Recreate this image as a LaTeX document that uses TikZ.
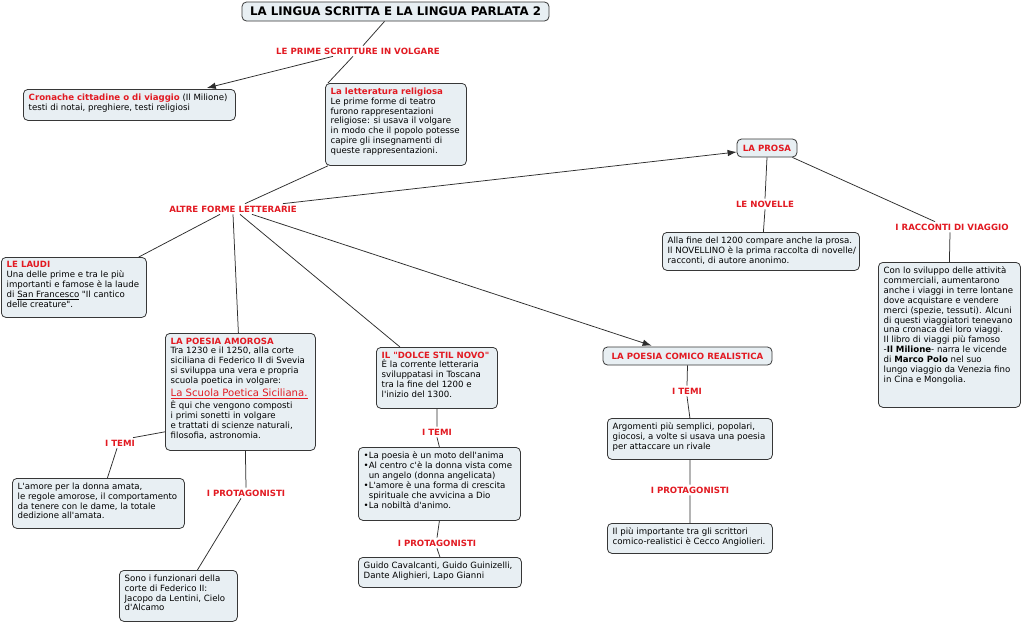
\documentclass[tikz,border=0pt]{standalone}
\usepackage{fontspec}
\setmainfont{DejaVu Sans}[Ligatures=TeXOff]
\usetikzlibrary{arrows.meta}
\definecolor{lblred}{RGB}{226,26,34}
\definecolor{boxfill}{RGB}{232,239,243}
\definecolor{bord}{RGB}{55,55,55}
\definecolor{linec}{RGB}{45,45,45}
\newcommand\fs{\fontsize{8.6}{9.9}\selectfont}
\newcommand\fsb{\fontsize{8.6}{9.9}\selectfont\bfseries}
\tikzset{
  bx/.style={draw=bord, fill=boxfill, rounded corners=4.5pt, line width=0.8pt, inner sep=0pt, anchor=north west},
  txt/.style={anchor=north west, align=left, inner sep=0pt, font=\fs, text=black},
  lbl/.style={text=lblred, font=\fsb, inner sep=2pt, text height=6.3pt, text depth=0pt},
  ln/.style={draw=linec, line width=0.75pt},
  arr/.style={ln, -{Latex[length=9pt,width=6.5pt]}},
}
\newcommand\boxnode[6]{%
  \node[bx, minimum width=#4pt, minimum height=#5pt] (#1) at (#2,#3) {};
  \node[txt] (#1t) at ([xshift=5.5pt,yshift=-4.5pt]#1.north west) {#6};}
\newcommand\rb[1]{{\color{lblred}\bfseries #1}}
\begin{document}
\begin{tikzpicture}[x=1pt,y=-1pt]
\fill[white] (0,0) rectangle (1024,622);
\useasboundingbox (0,0) rectangle (1024,622);

% title
\node[bx, anchor=center, minimum width=307pt, minimum height=19pt, font=\fontsize{11.8}{12}\selectfont\bfseries] (title) at (395.5,11.5) {LA LINGUA SCRITTA E LA LINGUA PARLATA 2};

% boxes
\boxnode{cron}{23}{89}{212}{31}{\rb{Cronache cittadine o di viaggio} (Il Milione)\\testi di notai, preghiere, testi religiosi}
\boxnode{relig}{325}{83}{141}{82}{\rb{La letteratura religiosa}\\Le prime forme di teatro\\furono rappresentazioni\\religiose: si usava il volgare\\in modo che il popolo potesse\\capire gli insegnamenti di\\queste rappresentazioni.}
\boxnode{laudi}{1}{257}{145}{60}{\rb{LE LAUDI}\\Una delle prime e tra le più\\importanti e famose è la laude\\di \underline{San Francesco} "Il cantico\\delle creature".}
\boxnode{amor}{165}{333}{150}{117}{\rb{LA POESIA AMOROSA}\\Tra 1230 e il 1250, alla corte\\siciliana di Federico II di Svevia\\si sviluppa una vera e propria\\scuola poetica in volgare:\\[2.6pt]{\fontsize{10.1}{12}\selectfont\color{lblred}\underline{La Scuola Poetica Siciliana.}}\\[1.6pt]È qui che vengono composti\\i primi sonetti in volgare\\e trattati di scienze naturali,\\filosofia, astronomia.}
\boxnode{amt}{12}{478}{172}{50}{L'amore per la donna amata,\\le regole amorose, il comportamento\\da tenere con le dame, la totale\\dedizione all'amata.}
\boxnode{apb}{119}{570}{118}{51}{Sono i funzionari della\\corte di Federico II:\\Jacopo da Lentini, Cielo\\d'Alcamo}
\boxnode{dolce}{376}{347}{121}{61}{\rb{IL "DOLCE STIL NOVO"}\\È la corrente letteraria\\sviluppatasi in Toscana\\tra la fine del 1200 e\\l'inizio del 1300.}
\boxnode{dtb}{358}{447}{162}{73}{•La poesia è un moto dell'anima\\•Al centro c'è la donna vista come\\\phantom{•}un angelo (donna angelicata)\\•L'amore è una forma di crescita\\\phantom{•}spirituale che avvicina a Dio\\•La nobiltà d'animo.}
\boxnode{dpb}{358}{557}{163}{30}{Guido Cavalcanti, Guido Guinizelli,\\Dante Alighieri, Lapo Gianni}
\boxnode{ctb}{607}{418}{165}{41}{Argomenti più semplici, popolari,\\giocosi, a volte si usava una poesia\\per attaccare un rivale}
\boxnode{cpb}{607}{523}{165}{30}{Il più importante tra gli scrittori\\comico-realistici è Cecco Angiolieri.}
\boxnode{novb}{662}{232}{197}{38}{Alla fine del 1200 compare anche la prosa.\\Il NOVELLINO è la prima raccolta di novelle/\\racconti, di autore anonimo.}
\boxnode{raccb}{878}{262}{142}{145}{Con lo sviluppo delle attività\\commerciali, aumentarono\\anche i viaggi in terre lontane\\dove acquistare e vendere\\merci (spezie, tessuti). Alcuni\\di questi viaggiatori tenevano\\una cronaca dei loro viaggi.\\Il libro di viaggi più famoso\\-\textbf{Il Milione}- narra le vicende\\di \textbf{Marco Polo} nel suo\\lungo viaggio da Venezia fino\\in Cina e Mongolia.}

\node[bx, anchor=center, minimum width=60pt, minimum height=18pt, font=\fsb, text=lblred] (prosa) at (767,148) {LA PROSA};
\node[bx, anchor=center, minimum width=169pt, minimum height=18pt, font=\fsb, text=lblred] (comico) at (687.5,356) {LA POESIA COMICO REALISTICA};

% labels
\node[lbl] (lbl1) at (358,51) {LE PRIME SCRITTURE IN VOLGARE};
\node[lbl] (altre) at (233,209) {ALTRE FORME LETTERARIE};
\node[lbl] (novl) at (765,204) {LE NOVELLE};
\node[lbl] (raccl) at (952,227) {I RACCONTI DI VIAGGIO};
\node[lbl] (amtl) at (120,443) {I TEMI};
\node[lbl] (apl) at (246,493) {I PROTAGONISTI};
\node[lbl] (dtl) at (437,432) {I TEMI};
\node[lbl] (dpl) at (437,543) {I PROTAGONISTI};
\node[lbl] (ctl) at (687,391) {I TEMI};
\node[lbl] (cpl) at (690,490) {I PROTAGONISTI};

% connectors
\draw[ln] ([xshift=-11pt]title.south) -- ([xshift=5pt]lbl1.north);
\draw[ln] ([xshift=-5pt]lbl1.south) -- ([xshift=3pt]relig.north west);
\draw[arr] ([xshift=-25pt]lbl1.south) -- ([xshift=-29pt,yshift=1pt]cron.north east);
\draw[ln] ([xshift=3pt]relig.south west) -- ([xshift=12pt]altre.north);
\draw[arr] ([xshift=-16pt]altre.north east) -- ([yshift=-4pt]prosa.west);
\draw[ln] ([xshift=-13pt]altre.south) -- ([xshift=-8pt]laudi.north east);
\draw[ln] (altre.south) -- ([xshift=-2pt]amor.north);
\draw[ln] ([xshift=7pt]altre.south) -- ([xshift=24pt]dolce.north west);
\draw[arr] ([xshift=19pt]altre.south) -- ([xshift=49pt,yshift=1pt]comico.north west);
\draw[ln] (prosa.south) -- (novl.north);
\draw[ln] (novl.south) -- ([xshift=2.5pt]novb.north);
\draw[ln] ([xshift=-5pt]prosa.south east) -- ([xshift=-17pt]raccl.north);
\draw[ln] ([xshift=-2pt]raccl.south) -- (raccb.north);
\draw[ln] ([yshift=19pt]amor.south west) -- ([xshift=-4pt]amtl.north east);
\draw[ln] ([xshift=-3pt]amtl.south) -- ([xshift=9pt]amt.north);
\draw[ln] ([xshift=5pt]amor.south) -- (apl.north);
\draw[ln] ([xshift=-5pt]apl.south) -- ([xshift=19pt]apb.north);
\draw[ln] (dolce.south) -- (dtl.north);
\draw[ln] (dtl.south) -- (dtb.north);
\draw[ln] (dtb.south) -- (dpl.north);
\draw[ln] (dpl.south) -- (dpb.north);
\draw[ln] (comico.south) -- (ctl.north);
\draw[ln] (ctl.south) -- (ctb.north);
\draw[ln] (ctb.south) -- (cpl.north);
\draw[ln] (cpl.south) -- (cpb.north);
\end{tikzpicture}
\end{document}
